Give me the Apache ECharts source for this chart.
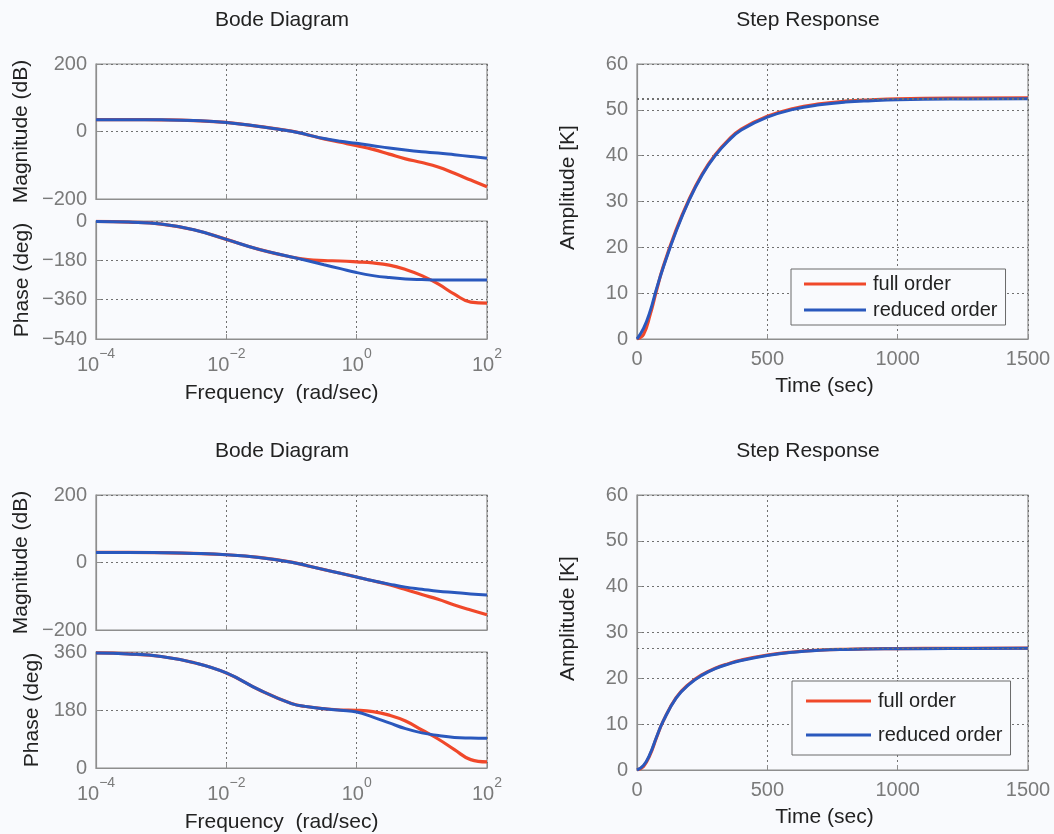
<!DOCTYPE html>
<html>
<head>
<meta charset="utf-8">
<script src="https://cdn.jsdelivr.net/npm/echarts@6/dist/echarts.min.js"></script>
<style>
html,body{margin:0;padding:0;background:#f9fafd;}
#c{width:1054px;height:834px;}
</style>
</head>
<body>
<div id="c"></div>
<script>
// ---- Bode data: frequency as log10(rad/sec) ----
const bodeFreqExp = [-4,-3.5,-3,-2.5,-2,-1.5,-1,-0.75,-0.5,-0.25,0,0.25,0.5,0.75,1,1.25,1.5,1.75,2];
const bodeFreqTicks = [-4,-2,0,2];

// Case 1 (top row)
const bode1MagFull     = [35,35,34.5,32.5,27,15,1,-10,-22,-32,-42,-53,-67,-81,-92,-105,-124,-144,-164];
const bode1MagReduced  = [35,35,34.5,32.5,27,15,1,-10,-21,-29,-35,-42,-49,-55,-60,-64,-69,-74,-79];
const bode1PhaseFull    = [-2,-5,-14,-40,-84,-130,-165,-177,-181,-183,-187,-192,-202,-222,-250,-288,-335,-371,-376];
const bode1PhaseReduced = [-2,-5,-14,-40,-84,-130,-165,-182,-200,-218,-236,-250,-259,-265,-268,-270,-270,-270,-270];

// Case 2 (bottom row)
const bode2MagFull     = [30,30,29,27,23,15,1,-10,-21,-32,-43,-54,-66,-80,-95,-109,-126,-141,-155];
const bode2MagReduced  = [30,30,29,27,23,15,1,-10,-21,-32,-43,-54,-64,-73,-79,-85,-89,-93,-96];
const bode2PhaseFull    = [357,354,346,327,295,243,200,190,184,180,179,175,164,146,118,90,57,26,19];
const bode2PhaseReduced = [357,354,346,327,295,243,200,190,184,179,174,158,140,122,109,101,95,93,92];

// ---- Step response data ----
const stepTime = [0,25,50,75,100,150,200,250,300,350,400,500,600,700,800,900,1000,1200,1500];
const step1Full    = [0,1.0,5.2,10.6,15.7,23.8,30.5,36.0,40.2,43.4,45.8,48.6,50.3,51.3,51.9,52.2,52.4,52.55,52.6];
const step1Reduced = [0,2.3,6.0,11.0,15.5,23.5,30.3,35.8,40.0,43.2,45.6,48.4,50.1,51.1,51.7,52.0,52.2,52.35,52.4];
const step1Final   = [52.6, 52.4];
const step2Full    = [0,0.8,3.3,7.1,10.6,15.8,18.8,20.8,22.2,23.2,24.0,25.1,25.75,26.15,26.35,26.45,26.5,26.55,26.6];
const step2Reduced = [0,1.0,3.5,7.2,10.6,15.7,18.7,20.7,22.1,23.1,23.9,25.0,25.7,26.1,26.3,26.4,26.45,26.5,26.55];
const step2Final   = [26.6, 26.55];

const seriesNames = ['full order', 'reduced order'];

// ---- style ----
const RED = '#f0482a', BLUE = '#2a58bd', BG = '#f9fafd';
const GRAY = '#7a7a7a', BORDER = '#8e8e8e', DARK = '#222';
const FONT = 'Liberation Sans, Arial, Helvetica, sans-serif';
const minus = v => String(v).replace('-', '\u2212');

function pairs(xs, ys){ return xs.map((x,i)=>[x, ys[i]]); }

const gridsPos = [
  {left:96, top:64, width:391, height:135},   // 0 top mag
  {left:96, top:221, width:391, height:118},  // 1 top phase
  {left:637, top:64, width:391, height:275},  // 2 top step
  {left:96, top:495, width:391, height:135},  // 3 bottom mag
  {left:96, top:652, width:391, height:118},  // 4 bottom phase
  {left:637, top:495, width:391, height:275}  // 5 bottom step
];
const grid = gridsPos.map(g => Object.assign({show:true, borderColor:BORDER, borderWidth:1.2, backgroundColor:'transparent', containLabel:false}, g));

const splitLine = {show:true, lineStyle:{type:[2,3], color:'#707070', width:1}};
const axisLine = {show:true, onZero:false, lineStyle:{color:BORDER, width:1.2}};
const axisTick = {show:true, inside:true, length:5, lineStyle:{color:BORDER}};

function freqAxis(gi, showLabels){
  return {
    type:'value', gridIndex:gi, min:-4, max:2, interval:2,
    axisLine, axisTick, splitLine,
    axisLabel: showLabels ? {
      show:true, margin:8, color:GRAY,
      formatter: v => '{b|10}{s|' + minus(v) + '}',
      rich: {
        b:{fontSize:20, fontFamily:FONT, color:GRAY, padding:[8,0,0,0]},
        s:{fontSize:14, fontFamily:FONT, color:GRAY, verticalAlign:'top'}
      }
    } : {show:false},
    name: showLabels ? 'Frequency  (rad/sec)' : '',
    nameLocation:'middle', nameGap:44,
    nameTextStyle:{fontSize:21, fontFamily:FONT, color:DARK, padding:[0,20,0,0]}
  };
}
function timeAxis(gi){
  return {
    type:'value', gridIndex:gi, min:0, max:1500, interval:500,
    axisLine, axisTick, splitLine,
    axisLabel:{fontSize:20, fontFamily:FONT, color:GRAY, margin:10, formatter: v => String(v)},
    name:'Time (sec)', nameLocation:'middle', nameGap:37,
    nameTextStyle:{fontSize:21, fontFamily:FONT, color:DARK, padding:[0,16,0,0]}
  };
}
function yAxis(gi, min, max, interval, name, gap, pad){
  return {
    type:'value', gridIndex:gi, min, max, interval,
    axisLine, axisTick, splitLine,
    axisLabel:{fontSize:20, fontFamily:FONT, color:GRAY, margin:9, formatter: minus},
    name, nameLocation:'middle', nameGap:gap,
    nameTextStyle:{fontSize:21, fontFamily:FONT, color:DARK, padding: pad || 0}
  };
}

const xAxis = [
  freqAxis(0,false), freqAxis(1,true), timeAxis(2),
  freqAxis(3,false), freqAxis(4,true), timeAxis(5)
];
const yAxisArr = [
  yAxis(0,-200,200,200,'Magnitude (dB)',64),
  yAxis(1,-540,0,180,'Phase (deg)',63),
  yAxis(2,0,60,10,'Amplitude [K]',58,[0,0,0,28]),
  yAxis(3,-200,200,200,'Magnitude (dB)',64),
  yAxis(4,0,360,180,'Phase (deg)',53),
  yAxis(5,0,60,10,'Amplitude [K]',58,[0,0,0,28])
];

function line(name, idx, data, color, width, extra){
  return Object.assign({
    type:'line', name, xAxisIndex:idx, yAxisIndex:idx, data,
    showSymbol:false, symbol:'none', smooth:0.45,
    lineStyle:{color, width}, itemStyle:{color}, animation:false, silent:true
  }, extra || {});
}
function finalLine(v){
  return {silent:true, symbol:'none', label:{show:false},
    lineStyle:{type:[2,3], color:'#707070', width:1}, data:[{yAxis:v}], animation:false};
}

const series = [
  line(seriesNames[0],0,pairs(bodeFreqExp,bode1MagFull),RED,3.2),
  line(seriesNames[1],0,pairs(bodeFreqExp,bode1MagReduced),BLUE,3),
  line(seriesNames[0],1,pairs(bodeFreqExp,bode1PhaseFull),RED,3.2),
  line(seriesNames[1],1,pairs(bodeFreqExp,bode1PhaseReduced),BLUE,3),
  line(seriesNames[0],2,pairs(stepTime,step1Full),RED,3.2,{markLine:finalLine(step1Final[0])}),
  line(seriesNames[1],2,pairs(stepTime,step1Reduced),BLUE,3,{markLine:finalLine(step1Final[1])}),
  line(seriesNames[0],3,pairs(bodeFreqExp,bode2MagFull),RED,3.2),
  line(seriesNames[1],3,pairs(bodeFreqExp,bode2MagReduced),BLUE,3),
  line(seriesNames[0],4,pairs(bodeFreqExp,bode2PhaseFull),RED,3.2),
  line(seriesNames[1],4,pairs(bodeFreqExp,bode2PhaseReduced),BLUE,3),
  line(seriesNames[0],5,pairs(stepTime,step2Full),RED,3.2,{markLine:finalLine(step2Final[0])}),
  line(seriesNames[1],5,pairs(stepTime,step2Reduced),BLUE,3,{markLine:finalLine(step2Final[1])})
];

function legend(left, top, pad, gap, w){
  return {
    show:true, left, top, orient:'vertical', data:seriesNames.slice(),
    icon:'rect', itemWidth:w, itemHeight:3, itemGap:gap, padding:pad,
    backgroundColor:BG, borderColor:'#6a6a6a', borderWidth:1, borderRadius:0,
    textStyle:{fontSize:20, fontFamily:FONT, color:DARK, padding:[0,0,0,2]},
    selectedMode:false
  };
}

const titles = [
  {text:'Bode Diagram', x:282, y:20},
  {text:'Step Response', x:808, y:20},
  {text:'Bode Diagram', x:282, y:451},
  {text:'Step Response', x:808, y:451}
];

const chart = echarts.init(document.getElementById('c'), null, {renderer:'canvas'});
chart.setOption({
  backgroundColor: BG,
  animation:false,
  grid, xAxis, yAxis: yAxisArr, series,
  legend:[ legend(791, 269, [5,8,5,13], 6, 62), legend(792, 681, [10,8,10,14], 14, 65) ],
  graphic: titles.map(t => ({
    type:'text', x:t.x, y:t.y, silent:true,
    style:{text:t.text, fontSize:21, fontFamily:FONT, fill:DARK, align:'center', verticalAlign:'middle'}
  }))
});
</script>
</body>
</html>
